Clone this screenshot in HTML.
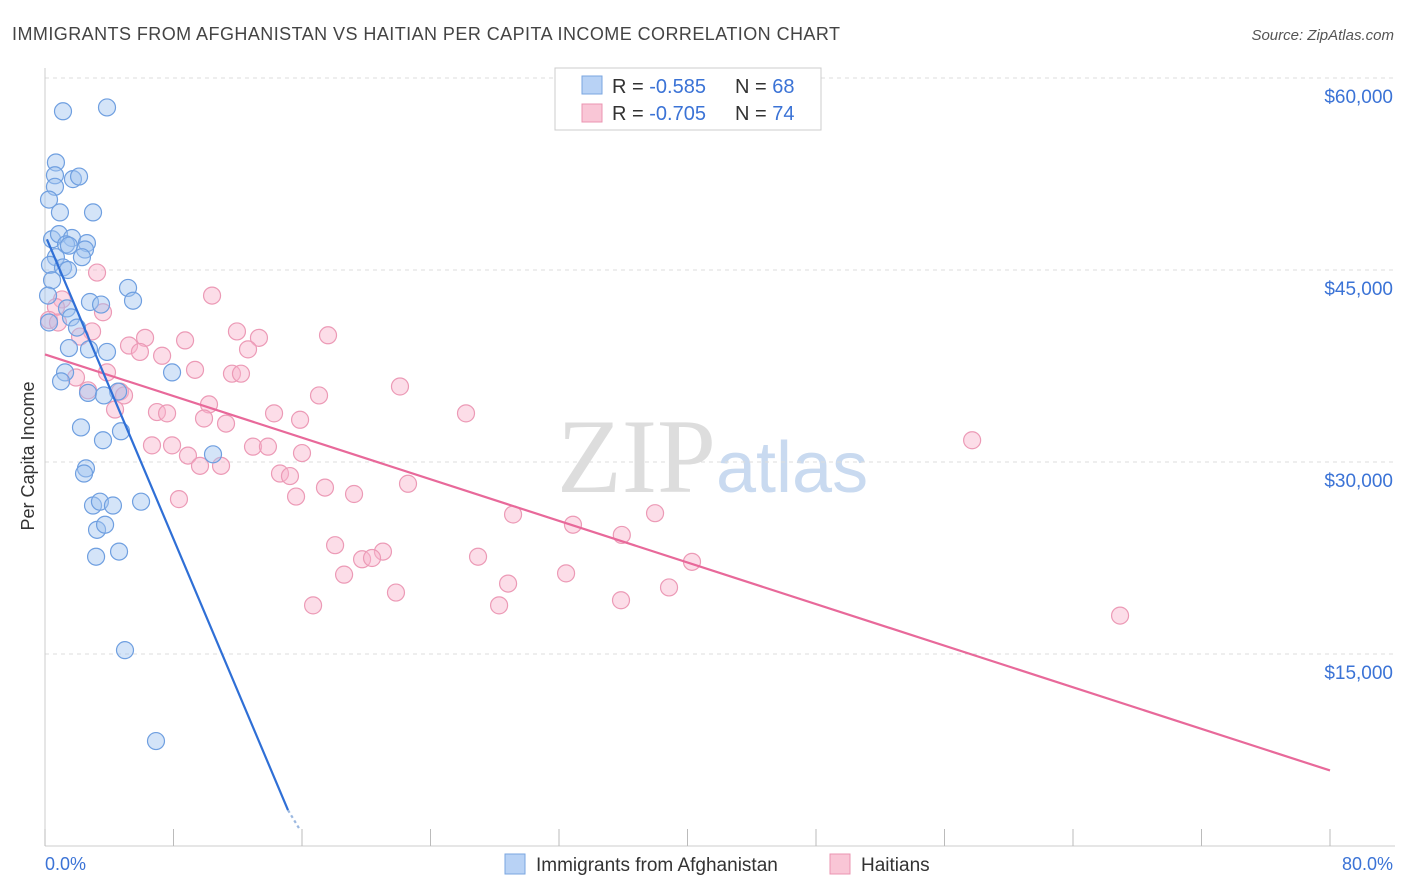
<!DOCTYPE html>
<html><head><meta charset="utf-8">
<style>
body{margin:0;background:#fff;font-family:"Liberation Sans",sans-serif;}
svg{display:block}
</style></head>
<body>
<svg id="chart" width="1406" height="892">
<text x="12" y="40" font-size="18" fill="#444" textLength="828" lengthAdjust="spacing">IMMIGRANTS FROM AFGHANISTAN VS HAITIAN PER CAPITA INCOME CORRELATION CHART</text>
<text x="1394" y="40" font-size="15" fill="#555" font-style="italic" text-anchor="end">Source: ZipAtlas.com</text>
<text x="716" y="492" font-size="106" fill="#ddd" text-anchor="end" font-family="Liberation Serif">ZIP</text>
<text x="716" y="492" font-size="72" fill="#c9daf0">atlas</text>
<text x="34" y="456" font-size="18" fill="#333" text-anchor="middle" transform="rotate(-90 34 456)">Per Capita Income</text>
<g id="grid"></g><g id="marks"></g>
<g>
<rect x="555" y="68" width="266" height="62" fill="#fff" stroke="#ccc"/>
<rect x="582" y="76" width="20" height="18" fill="#b8d2f5" stroke="#7aa6e0"/>
<rect x="582" y="104" width="20" height="18" fill="#f9c6d6" stroke="#eb94b1"/>
<text x="612" y="93" font-size="20" fill="#333">R = <tspan fill="#3b73d6">-0.585</tspan></text>
<text x="735" y="93" font-size="20" fill="#333">N = <tspan fill="#3b73d6">68</tspan></text>
<text x="612" y="120" font-size="20" fill="#333">R = <tspan fill="#3b73d6">-0.705</tspan></text>
<text x="735" y="120" font-size="20" fill="#333">N = <tspan fill="#3b73d6">74</tspan></text>
</g>
<g>
<rect x="505" y="854" width="20" height="20" fill="#b8d2f5" stroke="#7aa6e0"/>
<text x="536" y="871" font-size="19" fill="#333">Immigrants from Afghanistan</text>
<rect x="830" y="854" width="20" height="20" fill="#f9c6d6" stroke="#eb94b1"/>
<text x="861" y="871" font-size="19" fill="#333">Haitians</text>
</g>
<text x="45" y="870" font-size="18" fill="#3b73d6">0.0%</text>
<text x="1393" y="870" font-size="18" fill="#3b73d6" text-anchor="end">80.0%</text>
</svg>
<script>
const blueX=[1.12,3.86,0.68,0.62,1.74,2.12,0.62,0.25,0.93,2.99,0.44,0.87,1.68,2.61,1.31,0.68,2.49,1.49,2.30,0.31,1.12,1.43,0.44,5.17,0.19,5.48,2.80,3.49,1.37,1.62,1.99,0.25,1.49,3.86,2.74,1.25,7.91,1.00,4.55,2.68,3.67,2.24,4.73,3.61,10.46,2.55,2.43,2.99,3.42,4.23,5.98,3.24,3.74,4.61,3.18,4.98,6.91];
const blueY=[57.4,57.7,53.4,52.4,52.1,52.3,51.5,50.5,49.5,49.5,47.4,47.8,47.5,47.1,47.0,46.0,46.6,46.9,46.0,45.4,45.2,45.0,44.2,43.6,43.0,42.6,42.5,42.3,42.0,41.3,40.5,40.9,38.9,38.6,38.8,37.0,37.0,36.3,35.5,35.4,35.2,32.7,32.4,31.7,30.6,29.5,29.1,26.6,26.9,26.6,26.9,24.7,25.1,23.0,22.6,15.3,8.2];
const pinkX=[3.24,10.40,1.06,0.68,3.61,0.25,0.81,2.93,11.95,17.62,13.32,8.72,6.23,2.18,5.23,5.91,12.64,7.29,3.86,9.34,1.93,11.64,12.20,22.10,2.68,4.67,4.92,17.06,10.21,4.36,6.97,7.60,14.26,26.21,9.90,15.88,11.27,6.66,7.91,12.95,13.88,57.72,8.90,16.00,9.65,10.96,14.63,15.25,17.43,22.60,19.24,8.34,15.63,29.14,37.98,32.87,35.91,18.06,21.04,40.28,26.96,19.74,20.36,32.44,18.62,28.83,38.85,21.85,35.86,16.69,28.27,66.93];
const pinkY=[44.8,43.0,42.7,42.1,41.7,41.1,40.9,40.2,40.2,39.9,39.7,39.5,39.7,39.8,39.1,38.6,38.8,38.3,37.0,37.2,36.6,36.9,36.9,35.9,35.6,35.5,35.2,35.2,34.5,34.1,33.9,33.8,33.8,33.8,33.4,33.3,33.0,31.3,31.3,31.2,31.2,31.7,30.5,30.7,29.7,29.7,29.1,28.9,28.0,28.3,27.5,27.1,27.3,25.9,26.0,25.1,24.3,23.5,23.0,22.2,22.6,22.4,22.5,21.3,21.2,20.5,20.2,19.8,19.2,18.8,18.8,18.0];
const yTicks=[15000,30000,45000,60000];
const yTickLabels=["$15,000","$30,000","$45,000","$60,000"];
const xTicks=[0,8,16,24,32,40,48,56,64,72,80];
const blueTrend=[[0.12,47.4],[15.13,2.8]];
const blueDash=[[15.13,2.8],[15.88,1.25]];
const pinkTrend=[[0,38.4],[80,5.9]];

const NS="http://www.w3.org/2000/svg";
const sx=v=>45+v/80*1285;
const sy=k=>846-k*1000/15000*192;
function mk(tag,attrs,parent){const e=document.createElementNS(NS,tag);for(const k in attrs)e.setAttribute(k,attrs[k]);parent.appendChild(e);return e;}
const grid=document.getElementById('grid'),marks=document.getElementById('marks');
yTicks.forEach((t,i)=>{
  const l=mk('line',{x1:45,x2:1395,y1:sy(t/1000),y2:sy(t/1000),stroke:'#ddd','stroke-dasharray':'4 4'},grid);
  
  
  const tx=mk('text',{x:1393,y:sy(t/1000)+25,'font-size':19,fill:'#3b73d6','text-anchor':'end'},grid);
  tx.textContent=yTickLabels[i];
  
  
});
const ax=mk('line',{x1:45,x2:1395,y1:846,y2:846,stroke:'#ccc'},grid);


const ay=mk('line',{x1:45,x2:45,y1:68,y2:846,stroke:'#ccc'},grid);


xTicks.forEach(t=>{
  const l=mk('line',{x1:sx(t),x2:sx(t),y1:829,y2:846,stroke:'#bbb'},grid);
  
  
});
function pts(xs,ys,fill,stroke,name){
  xs.forEach((x,i)=>{
    const c=mk('circle',{cx:sx(x),cy:sy(ys[i]),r:8.5,fill:fill,stroke:stroke,'stroke-width':1.2},marks);
    
    
  });
}
pts(pinkX,pinkY,'rgba(248,180,203,0.45)','#ec9ab6','haitian-point');
pts(blueX,blueY,'rgba(160,195,240,0.45)','#6f9fe0','afghan-point');
function line(p,color,name,dash){
  const l=mk('line',{x1:sx(p[0][0]),y1:sy(p[0][1]),x2:sx(p[1][0]),y2:sy(p[1][1]),stroke:color,'stroke-width':2.2},marks);
  if(dash)l.setAttribute('stroke-dasharray','3 3');
  
  
}
line(pinkTrend,'#e8699a','haitian-trendline');
line(blueTrend,'#2f6fd6','afghan-trendline');
line(blueDash,'#9bb8e0','afghan-trendline-extension',true);
</script>
</body></html>
